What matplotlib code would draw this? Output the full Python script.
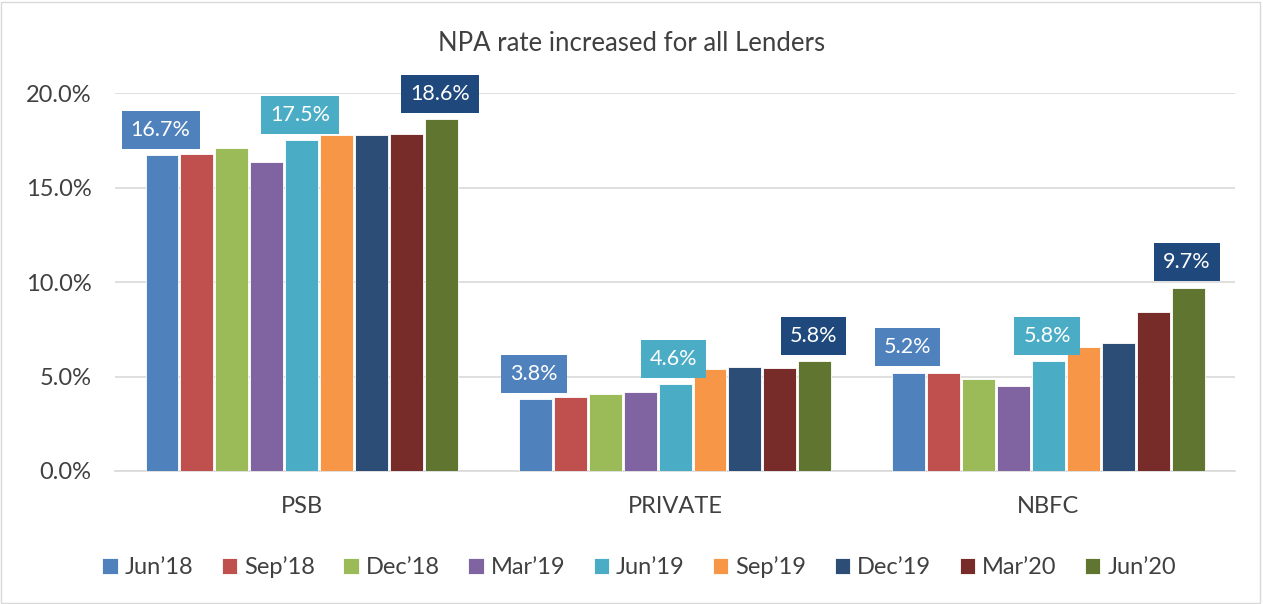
import numpy as np
import matplotlib.pyplot as plt
from matplotlib.patches import Rectangle

plt.rcParams['font.family'] = ['Lato', 'DejaVu Sans']

# data
lenders = ['PSB', 'PRIVATE', 'NBFC']
quarters = ['Jun\u201918', 'Sep\u201918', 'Dec\u201918', 'Mar\u201919', 'Jun\u201919',
            'Sep\u201919', 'Dec\u201919', 'Mar\u201920', 'Jun\u201920']
npa = [
    [16.7, 3.8, 5.2],    # Jun'18
    [16.75, 3.9, 5.2],   # Sep'18
    [17.1, 4.05, 4.85],  # Dec'18
    [16.35, 4.2, 4.5],   # Mar'19
    [17.5, 4.6, 5.8],    # Jun'19
    [17.8, 5.4, 6.55],   # Sep'19
    [17.8, 5.5, 6.75],   # Dec'19
    [17.85, 5.45, 8.4],  # Mar'20
    [18.6, 5.8, 9.7],    # Jun'20
]
labelled = [0, 4, 8]  # quarters that carry data labels

colors = ['#4F81BD', '#C0504D', '#9BBB59', '#8064A2', '#4BACC6',
          '#F79646', '#2C4D75', '#772C2A', '#5F7530']
label_box = {0: '#4F81BD', 4: '#4BACC6', 8: '#1F497D'}

fig = plt.figure(figsize=(12.63, 6.04), dpi=100)
fig.patches.append(Rectangle((0.001, 0.002), 0.997, 0.995, transform=fig.transFigure,
                             fill=False, edgecolor='#D9D9D9', linewidth=1))
ax = fig.add_axes([0.091, 0.2202, 0.887, 0.6258])

x = np.arange(len(lenders))
slot = 0.0935
width = 0.088
for i, q in enumerate(quarters):
    pos = x + (i - 4) * slot
    ax.bar(pos, npa[i], width, color=colors[i], edgecolor='white', linewidth=0.6,
           label=q, zorder=3)
    if i in labelled:
        for px, v in zip(pos, npa[i]):
            ax.annotate(f'{v:.1f}%', (px, v), xytext=(-1, 11), textcoords='offset points',
                        ha='center', va='bottom', color='white', fontsize=15.5,
                        bbox=dict(boxstyle='square,pad=0.42', fc=label_box[i], ec='none'),
                        zorder=5)

ax.set_xlim(-0.5, 2.5)
ax.set_ylim(0, 20)
ax.set_yticks([0, 5, 10, 15, 20])
ax.set_yticklabels([f'{t:.1f}%' for t in [0, 5, 10, 15, 20]])
ax.set_xticks(x)
ax.set_xticklabels(lenders)
ax.tick_params(axis='both', length=0, labelsize=17, colors='#404040')
ax.tick_params(axis='y', pad=17)
ax.tick_params(axis='x', pad=18)
ax.grid(axis='y', color='#D9D9D9', linewidth=1.2, zorder=0)
for s in ['top', 'right', 'left']:
    ax.spines[s].set_visible(False)
ax.spines['bottom'].set_color('#D9D9D9')
ax.spines['bottom'].set_linewidth(1.2)

fig.text(0.5, 0.928, 'NPA rate increased for all Lenders', ha='center', va='center',
         fontsize=18.5, color='#404040')

ax.legend(loc='center', bbox_to_anchor=(0.468, -0.255), ncol=9, frameon=False,
          fontsize=17, handlelength=0.65, handleheight=0.65, handletextpad=0.3,
          columnspacing=1.2, labelcolor='#404040')

fig.savefig('out.png', dpi=100)
